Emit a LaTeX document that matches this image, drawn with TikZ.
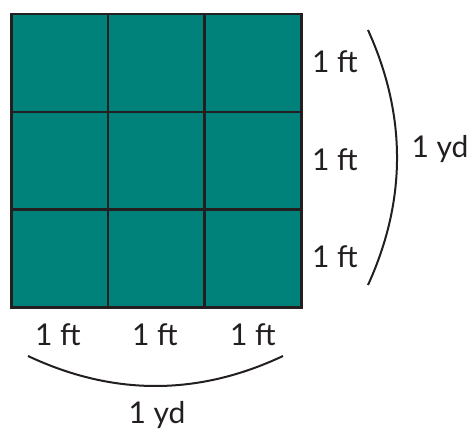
\documentclass[tikz,border=0pt]{standalone}
\usepackage{fontspec}
\setmainfont{Lato}
\definecolor{teal}{HTML}{00827A}
\definecolor{ink}{HTML}{231F20}
\begin{document}
\begin{tikzpicture}[x=1pt,y=-1pt,
  cell/.style={draw=ink,line width=2.5pt,fill=teal,minimum width=96.7pt,minimum height=97.7pt,inner sep=0,anchor=north west},
  lbl/.style={text=ink,font=\fontsize{30}{33}\selectfont,inner sep=0},
  brace/.style={draw=ink,line width=2pt}]
\useasboundingbox (0,0) rectangle (475,430);
\foreach \r in {0,1,2}{
  \foreach \c in {0,1,2}{
    \node[cell] (c\r\c) at ({10+96.7*\c},{13+97.7*\r}) {};
  }
}
\node[lbl] (r0) at (335,62) {1 ft};
\node[lbl] (r1) at (335,160) {1 ft};
\node[lbl] (r2) at (335,257) {1 ft};
\node[lbl] (ryd) at (440,149) {1 yd};
\node[lbl] (b0) at (58,335) {1 ft};
\node[lbl] (b1) at (155,335) {1 ft};
\node[lbl] (b2) at (253,335) {1 ft};
\node[lbl] (byd) at (157,415) {1 yd};
\coordinate (rt) at (368,30);
\coordinate (rb) at (368,285);
\coordinate (rc1) at (406.7,115.3);
\coordinate (rc2) at (406.7,200.3);
\coordinate (bl) at (28,356);
\coordinate (br) at (283,356);
\coordinate (bc1) at (113,396);
\coordinate (bc2) at (198,396);
\draw[brace] (rt) .. controls (rc1) and (rc2) .. (rb);
\draw[brace] (bl) .. controls (bc1) and (bc2) .. (br);
\end{tikzpicture}
\end{document}
